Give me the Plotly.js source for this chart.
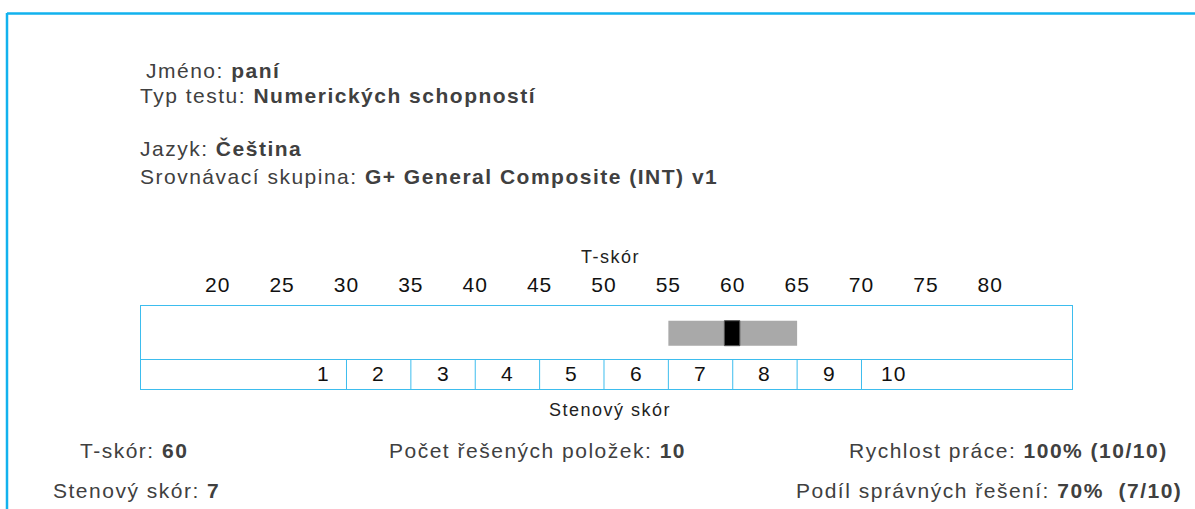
<!DOCTYPE html>
<html>
<head>
<meta charset="utf-8">
<script src="https://cdn.plot.ly/plotly-3.0.1.min.js"></script>
<style>
html,body{margin:0;padding:0;background:#fff;}
#chart{width:1195px;height:509px;}
#chart .xtick text{letter-spacing:1px;}
</style>
</head>
<body>
<div id="chart"></div>
<script>
// ---- data ----
const tTicks = [20, 25, 30, 35, 40, 45, 50, 55, 60, 65, 70, 75, 80];
const stanines = [1, 2, 3, 4, 5, 6, 7, 8, 9, 10];
const stanineBounds = [30, 35, 40, 45, 50, 55, 60, 65, 70];
const tScore = 60;
const bandLow = 55;
const bandHigh = 65;
const stanineScore = 7;
const headerLabels = ["Jméno: ", "Typ testu: ", "Jazyk: ", "Srovnávací skupina: "];
const headerValues = ["paní", "Numerických schopností", "Čeština", "G+ General Composite (INT) v1"];
const summaryLabels = ["T-skór: ", "Počet řešených položek: ", "Rychlost práce: ", "Stenový skór: ", "Podíl správných řešení: "];
const summaryValues = ["60", "10", "100% (10/10)", "7", "70%  (7/10)"];

// ---- layout geometry ----
const W = 1195, H = 509;
const L = 141, R = 1072, T = 306, B = 389;
const px = x => (x - L) / (R - L);
const py = y => (B - y) / (B - T);
const divY = py(359.5);
const FONT = "Liberation Sans, Arial, sans-serif";
const TXT = "#404040";
const BLUE = "#3dbdee";

const traces = [
  {
    type: "bar", orientation: "h",
    y: [py(333.2)], x: [bandHigh - bandLow], base: [bandLow],
    width: [py(320.7) - py(345.7)],
    marker: {color: "#a9a9a9", line: {width: 0}},
    hoverinfo: "skip", showlegend: false
  },
  {
    type: "bar", orientation: "h",
    y: [py(333.2)], x: [1.2], base: [tScore - 0.65],
    width: [py(320.7) - py(345.7)],
    marker: {color: "#000000", line: {width: 1, color: "#555555"}},
    hoverinfo: "skip", showlegend: false
  }
];

const shapes = [];
shapes.push({type: "line", xref: "paper", yref: "y", x0: 0, x1: 1, y0: divY, y1: divY,
  line: {color: BLUE, width: 1}});
stanineBounds.forEach(b => shapes.push({type: "line", xref: "x", yref: "y",
  x0: b, x1: b, y0: 0, y1: divY, line: {color: BLUE, width: 1}}));
shapes.push({type: "line", xref: "paper", yref: "paper", x0: px(7), x1: px(1200), y0: py(13.5), y1: py(13.5),
  line: {color: "#12b2ee", width: 2.5}});
shapes.push({type: "line", xref: "paper", yref: "paper", x0: px(7), x1: px(7), y0: py(13), y1: py(515),
  line: {color: "#12b2ee", width: 2.5}});

const annotations = [];
function txt(x, y, text, size, spacing, color, anchor) {
  annotations.push({xref: "paper", yref: "paper", x: px(x), y: py(y),
    text: "<span style='letter-spacing:" + spacing + "px'>" + text + "</span>",
    showarrow: false, xanchor: anchor || "left", yanchor: "middle", borderpad: 0,
    font: {family: FONT, size: size, color: color || TXT}});
}
const headerPos = [[145, 70], [139, 95], [139, 148], [139, 176]];
headerLabels.forEach((l, i) => txt(headerPos[i][0], headerPos[i][1], l + "<b>" + headerValues[i] + "</b>", 21, 1.5));
const sumPos = [[79, 450], [388, 450], [848, 450], [52, 490], [795, 490]];
summaryLabels.forEach((l, i) => txt(sumPos[i][0], sumPos[i][1], l + "<b>" + summaryValues[i] + "</b>", 21, 1.5));
txt(610, 257, "T-skór", 18, 1.5, "#222", "center");
txt(610, 410, "Stenový skór", 18, 1.5, "#222", "center");
stanines.forEach((s, i) => {
  const xc = i === 0 ? stanineBounds[0] - 1.8 : stanineBounds[i - 1] + 2.5;
  annotations.push({xref: "x", yref: "paper", x: xc, y: py(373),
    text: "<span style='letter-spacing:1px'>" + s + "</span>",
    showarrow: false, xanchor: "center", yanchor: "middle",
    font: {family: FONT, size: 21, color: "#111"}});
});

const layout = {
  width: W, height: H,
  margin: {l: L, r: W - R, t: T, b: H - B, pad: 0},
  paper_bgcolor: "#fff", plot_bgcolor: "#fff",
  barmode: "overlay",
  showlegend: false,
  xaxis: {
    range: [14.04, 86.35], side: "top", tickmode: "array", tickvals: tTicks,
    ticktext: tTicks.map(String), ticks: "", showgrid: false, zeroline: false,
    showline: true, mirror: true, linecolor: BLUE, linewidth: 1,
    tickfont: {family: FONT, size: 21, color: "#111"}, ticklabelstandoff: 5,
    fixedrange: true
  },
  yaxis: {
    range: [0, 1], showticklabels: false, ticks: "", showgrid: false, zeroline: false,
    showline: true, mirror: true, linecolor: BLUE, linewidth: 1, fixedrange: true
  },
  shapes: shapes,
  annotations: annotations
};

Plotly.newPlot("chart", traces, layout, {staticPlot: true, displayModeBar: false});
</script>
</body>
</html>
